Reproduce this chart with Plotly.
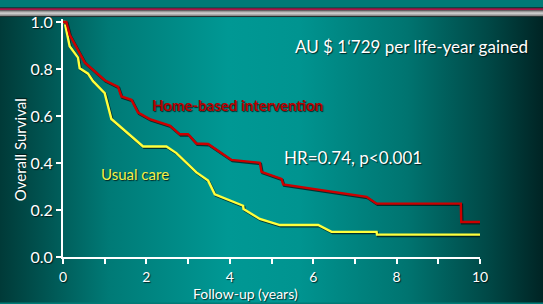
import base64
import plotly.graph_objects as go

# ---- data ----
home_x = [0, 0.08, 0.16, 0.52, 1.0, 1.32, 1.40, 1.64, 1.80, 2.08, 2.56, 2.80, 3.0, 3.20, 3.48, 4.04, 4.72, 4.76, 5.24, 5.28, 7.28, 7.52, 9.54, 9.55, 10.0]
home_y = [1.0, 1.0, 0.945, 0.828, 0.752, 0.724, 0.683, 0.669, 0.614, 0.587, 0.559, 0.522, 0.522, 0.483, 0.481, 0.413, 0.401, 0.362, 0.332, 0.309, 0.256, 0.227, 0.227, 0.149, 0.149]

usual_x = [0, 0.04, 0.16, 0.36, 0.40, 0.60, 0.72, 1.0, 1.16, 1.92, 2.48, 2.72, 3.20, 3.48, 3.64, 4.32, 4.33, 4.72, 5.20, 6.12, 6.44, 7.52, 7.53, 10.0]
usual_y = [1.0, 1.0, 0.897, 0.848, 0.803, 0.780, 0.748, 0.697, 0.587, 0.470, 0.470, 0.442, 0.360, 0.325, 0.267, 0.218, 0.204, 0.162, 0.136, 0.136, 0.107, 0.107, 0.095, 0.095]

x_tickvals = [0, 1, 2, 3, 4, 5, 6, 7, 8, 9, 10]
x_ticktext = ["0", "", "2", "", "4", "", "6", "", "8", "", "10"]
y_tickvals = [0.0, 0.2, 0.4, 0.6, 0.8, 1.0]
y_ticktext = ["0.0", "0.2", "0.4", "0.6", "0.8", "1.0"]

W, H = 543, 304
ML, MR, MT, MB = 63, 63, 12, 47
PW, PH = W - ML - MR, H - MT - MB

# ---- background (gradient + top band) as svg ----
svg = f'''<svg xmlns="http://www.w3.org/2000/svg" width="{W}" height="{H}" viewBox="0 0 {W} {H}" preserveAspectRatio="none">
<defs>
<linearGradient id="g" x1="0" y1="0" x2="1" y2="0">
<stop offset="0" stop-color="#003a38"/>
<stop offset="0.2" stop-color="#007a76"/>
<stop offset="0.42" stop-color="#009894"/>
<stop offset="0.55" stop-color="#009490"/>
<stop offset="0.75" stop-color="#007470"/>
<stop offset="0.9" stop-color="#004846"/>
<stop offset="1" stop-color="#002424"/>
</linearGradient>
<linearGradient id="b" x1="0" y1="0" x2="0" y2="1">
<stop offset="0" stop-color="#6a6a6a"/>
<stop offset="0.5" stop-color="#d4d4d4"/>
<stop offset="1" stop-color="#7a7a7a"/>
</linearGradient>
</defs>
<rect x="0" y="0" width="{W}" height="{H}" fill="url(#g)"/>
<rect x="0" y="0" width="{W}" height="10" fill="#1a2a2a"/>
<rect x="0" y="1" width="{W}" height="2" fill="#a8184a"/>
<rect x="0" y="3" width="{W}" height="6" fill="url(#b)"/>
</svg>'''
bg_src = "data:image/svg+xml;base64," + base64.b64encode(svg.encode()).decode()

fig = go.Figure()

shadow = "rgba(0,20,20,0.75)"
dx, dy = 1.0 / (PW / 10), 1.2 / (PH / 1.0125)

for xs, ys, col in [(usual_x, usual_y, "#ffff3c"), (home_x, home_y, "#cc0000")]:
    fig.add_trace(go.Scatter(x=[v + dx for v in xs], y=[v - dy for v in ys], mode="lines",
                             line=dict(color=shadow, width=2.6), hoverinfo="skip", showlegend=False))
    fig.add_trace(go.Scatter(x=xs, y=ys, mode="lines",
                             line=dict(color=col, width=2.4), showlegend=False))

font_family = "Lato, 'Open Sans', sans-serif"
tshadow = "1px 1px 1px rgba(0,0,0,0.7)"


def px_x(p):
    return (p - ML) / PW


def px_y(p):
    return 1 - (p - MT) / PH


ann = [
    dict(text="AU $ 1‘729 per life-year gained", x=px_x(530), y=px_y(40), xanchor="right",
         font=dict(color="white", size=17)),
    dict(text="Home-based intervention", x=px_x(150), y=px_y(101), xanchor="left",
         font=dict(color="#b80000", size=15, weight="bold")),
    dict(text="HR=0.74, p<0.001", x=px_x(282), y=px_y(155), xanchor="left",
         font=dict(color="white", size=17)),
    dict(text="Usual care", x=px_x(99), y=px_y(172), xanchor="left",
         font=dict(color="#f4f048", size=15)),
    dict(text="Follow-up (years)", x=px_x(245), y=px_y(294.5), xanchor="center",
         font=dict(color="white", size=14)),
    dict(text="Overall Survival", x=px_x(20), y=px_y(147), xanchor="center", textangle=-90,
         font=dict(color="white", size=15)),
]
annotations = []
for a in ann:
    a["font"]["family"] = font_family
    a["font"]["shadow"] = tshadow
    annotations.append(dict(xref="paper", yref="paper", yanchor="middle", showarrow=False, **a))

fig.update_layout(
    width=W, height=H,
    margin=dict(l=ML, r=MR, t=MT, b=MB, pad=0),
    paper_bgcolor="#007a76", plot_bgcolor="rgba(0,0,0,0)",
    images=[dict(source=bg_src, xref="paper", yref="paper",
                 x=-ML / PW, y=1 + MT / PH, sizex=W / PW, sizey=H / PH,
                 xanchor="left", yanchor="top", sizing="stretch", layer="below")],
    annotations=annotations,
    font=dict(family=font_family, color="white"),
    xaxis=dict(range=[0, 10], tickvals=x_tickvals, ticktext=x_ticktext,
               showgrid=False, zeroline=False, showline=True, linecolor="white", linewidth=2,
               ticks="outside", ticklen=5, tickwidth=2, tickcolor="white", ticklabelstandoff=1,
               tickfont=dict(size=14, color="white", family=font_family, shadow=tshadow)),
    yaxis=dict(range=[0, 1.0125], tickvals=y_tickvals, ticktext=y_ticktext,
               showgrid=False, zeroline=False, showline=True, linecolor="white", linewidth=2,
               ticks="outside", ticklen=5, tickwidth=2, tickcolor="white",
               tickfont=dict(size=16, color="white", family=font_family, shadow=tshadow)),
)

fig.write_html("out.html", config={"displayModeBar": False},
               post_script="document.body.style.margin='0';document.body.style.padding='0';"
                           "document.documentElement.style.overflow='hidden';")
